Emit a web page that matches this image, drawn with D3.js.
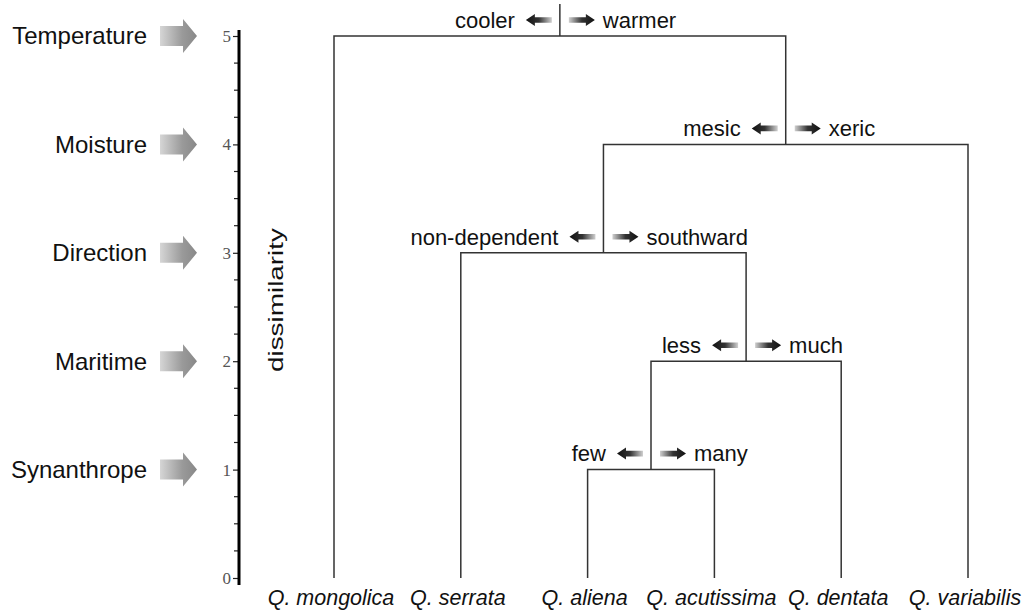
<!DOCTYPE html>
<html>
<head>
<meta charset="utf-8">
<script src="https://cdn.jsdelivr.net/npm/d3@7"></script>
<style>
html,body{margin:0;padding:0;background:#fff;}
svg{display:block;}
</style>
</head>
<body>
<svg id="chart" width="1034" height="611"></svg>
<script>
// ---- data ----
const leaves = ["Q. mongolica","Q. serrata","Q. aliena","Q. acutissima","Q. dentata","Q. variabilis"];
// merges: left child, right child, height (dissimilarity)
const mergeLeft   = ["Q. aliena", "m1", "Q. serrata", "m3", "Q. mongolica"];
const mergeRight  = ["Q. acutissima", "Q. dentata", "m2", "Q. variabilis", "m4"];
const mergeHeight = [1, 2, 3, 4, 5];
const leftLabels  = ["few", "less", "non-dependent", "mesic", "cooler"];
const rightLabels = ["many", "much", "southward", "xeric", "warmer"];
const factorLabels = ["Synanthrope", "Maritime", "Direction", "Moisture", "Temperature"];
const factorLevels = [1, 2, 3, 4, 5];
const majorTicks = [0, 1, 2, 3, 4, 5];
const axisTitle = "dissimilarity";

// ---- scales ----
const svg = d3.select("#chart");
const y = d3.scaleLinear().domain([0, 5]).range([578, 36]);
const x = d3.scalePoint().domain(leaves).range([334, 968]);
const FONT = "'Liberation Sans', Arial, sans-serif";

const defs = svg.append("defs");
function grad(id, x1, x2, stops) {
  const g = defs.append("linearGradient").attr("id", id).attr("x1", x1).attr("x2", x2).attr("y1", "0").attr("y2", "0");
  stops.forEach(s => g.append("stop").attr("offset", s[0]).attr("stop-color", s[1]));
}
grad("gradR", "0", "1", [["0", "#d0d0d0"], ["0.5", "#333"], ["1", "#111"]]);
grad("gradL", "1", "0", [["0", "#d0d0d0"], ["0.5", "#333"], ["1", "#111"]]);
grad("gradBig", "0", "1", [["0", "#d6d6d6"], ["0.6", "#9a9a9a"], ["1", "#888"]]);

// ---- axis ----
const axisX = 239;
const axis = d3.axisLeft(y).tickValues(majorTicks).tickSize(6).tickPadding(2).tickFormat(d3.format("d"));
const ag = svg.append("g").attr("transform", `translate(${axisX},0)`).call(axis);
ag.select(".domain").remove();
ag.selectAll(".tick line").attr("stroke","#222").attr("stroke-width",1.2);
ag.selectAll(".tick text").attr("font-family","'Liberation Serif', 'Times New Roman', serif")
  .attr("font-size",17).attr("fill","#555");
// minor ticks
const minor = d3.range(0, 5.001, 0.25).filter(v => Math.abs(v - Math.round(v)) > 1e-6);
svg.append("g").selectAll("line").data(minor).join("line")
  .attr("x1", axisX - 5).attr("x2", axisX).attr("y1", d => y(d)).attr("y2", d => y(d))
  .attr("stroke","#222").attr("stroke-width",1.2);
svg.append("line").attr("x1",axisX).attr("x2",axisX).attr("y1",y(5)-6).attr("y2",y(0)+7)
  .attr("stroke","#000").attr("stroke-width",3);

svg.append("text").attr("transform",`translate(283,${(228+372)/2}) rotate(-90)`)
  .attr("text-anchor","middle").attr("font-family",FONT).attr("font-size",21).attr("fill","#111")
  .attr("textLength",144).attr("lengthAdjust","spacingAndGlyphs").text(axisTitle);

// ---- factor labels with gray arrows ----
const fg = svg.append("g");
factorLabels.forEach((lab, i) => {
  const cy = y(factorLevels[i]);
  fg.append("text").attr("x",147).attr("y",cy).attr("dy","0.35em").attr("text-anchor","end")
    .attr("font-family",FONT).attr("font-size",24).attr("fill","#111").text(lab);
  const p = d3.path();
  p.moveTo(160, cy-10); p.lineTo(183, cy-10); p.lineTo(183, cy-17); p.lineTo(197, cy);
  p.lineTo(183, cy+17); p.lineTo(183, cy+10); p.lineTo(160, cy+10); p.closePath();
  fg.append("path").attr("d", p.toString()).attr("fill","url(#gradBig)");
});

// ---- dendrogram ----
const nodeX = {}; const nodeH = {};
leaves.forEach(l => { nodeX[l] = x(l); nodeH[l] = 0; });
const dg = svg.append("g").attr("fill","none").attr("stroke","#333").attr("stroke-width",1.5);
mergeHeight.forEach((h, i) => {
  const a = mergeLeft[i], b = mergeRight[i], id = "m" + (i+1);
  const xa = nodeX[a], xb = nodeX[b];
  dg.append("path").attr("d", `M${xa},${y(nodeH[a])}V${y(h)}H${xb}V${y(nodeH[b])}`);
  nodeX[id] = (xa + xb) / 2; nodeH[id] = h;
});
// root stem
const rootId = "m" + mergeHeight.length;
dg.append("line").attr("x1", nodeX[rootId]).attr("x2", nodeX[rootId])
  .attr("y1", y(nodeH[rootId])).attr("y2", y(nodeH[rootId]) - 32);

// ---- split annotations ----
const an = svg.append("g");
function arrow(x0, x1, cy, dir) {
  const p = d3.path();
  const head = 9, hb = 2.8, hh = 6;
  if (dir > 0) {
    p.moveTo(x0, cy-hb); p.lineTo(x1-head, cy-hb); p.lineTo(x1-head, cy-hh); p.lineTo(x1, cy);
    p.lineTo(x1-head, cy+hh); p.lineTo(x1-head, cy+hb); p.lineTo(x0, cy+hb); p.closePath();
  } else {
    p.moveTo(x1, cy-hb); p.lineTo(x0+head, cy-hb); p.lineTo(x0+head, cy-hh); p.lineTo(x0, cy);
    p.lineTo(x0+head, cy+hh); p.lineTo(x0+head, cy+hb); p.lineTo(x1, cy+hb); p.closePath();
  }
  an.append("path").attr("d", p.toString()).attr("fill", dir > 0 ? "url(#gradR)" : "url(#gradL)");
}
mergeHeight.forEach((h, i) => {
  const vx = nodeX["m" + (i+1)];
  const cy = y(h) - 16;
  arrow(vx - 34, vx - 8, cy, -1);
  arrow(vx + 9, vx + 35, cy, 1);
  an.append("text").attr("x", vx - 45).attr("y", cy).attr("dy","0.35em").attr("text-anchor","end")
    .attr("font-family",FONT).attr("font-size",22).attr("fill","#111").text(leftLabels[i]);
  an.append("text").attr("x", vx + 43).attr("y", cy).attr("dy","0.35em").attr("text-anchor","start")
    .attr("font-family",FONT).attr("font-size",22).attr("fill","#111").text(rightLabels[i]);
});

// ---- leaf labels ----
svg.append("g").selectAll("text").data(leaves).join("text")
  .attr("x", d => x(d) - 3).attr("y", 605).attr("text-anchor","middle")
  .attr("font-family",FONT).attr("font-size",21.5).attr("font-style","italic").attr("fill","#111")
  .text(d => d);
</script>
</body>
</html>
